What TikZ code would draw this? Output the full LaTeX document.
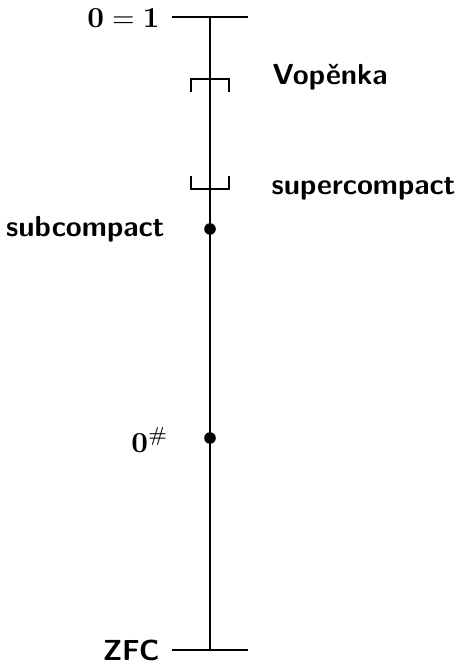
\documentclass[tikz,border=0pt]{standalone}
\usepackage{amsmath}
\tikzset{
  axisline/.style={line width=0.65pt},
  lvldot/.style={circle, fill=black, inner sep=0pt, minimum size=4pt},
  lvltext/.style={font=\sffamily\bfseries, inner sep=0pt},
  lvlmath/.style={inner sep=0pt},
}
\begin{document}
\begin{tikzpicture}[x=0.345pt, y=-0.345pt]
  \useasboundingbox (0,0) rectangle (460,666);

  %--- Main axis ---
  \coordinate (top) at (210,17);
  \coordinate (bot) at (210,650);
  \draw[axisline] (top) -- (bot);
  \draw[axisline] (172,17) -- (248,17);
  \draw[axisline] (172,650) -- (248,650);

  %--- Brackets ---
  \draw[axisline] (191,92) -- (191,79) -- (229,79) -- (229,92);
  \draw[axisline] (191,176) -- (191,189) -- (229,189) -- (229,176);

  %--- Dots ---
  \node[lvldot] (subc) at (210,229) {};
  \node[lvldot] (zsharp) at (210,438) {};

  %--- Labels ---
  \node[lvlmath, anchor=east] (incons) at (160,18) {$\mathbf{0=1}$};
  \node[lvltext, anchor=west] (vop) at (272,77) {Vop\v{e}nka};
  \node[lvltext, anchor=west] (superc) at (271,189) {supercompact};
  \node[lvltext, anchor=east] (subcl) at (165,229) {subcompact};
  \node[lvlmath] (zsharpl) at (150,440) {$\mathbf{0}^{\#}$};
  \node[lvltext, anchor=east] (zfc) at (160,650) {ZFC};
\end{tikzpicture}
\end{document}
